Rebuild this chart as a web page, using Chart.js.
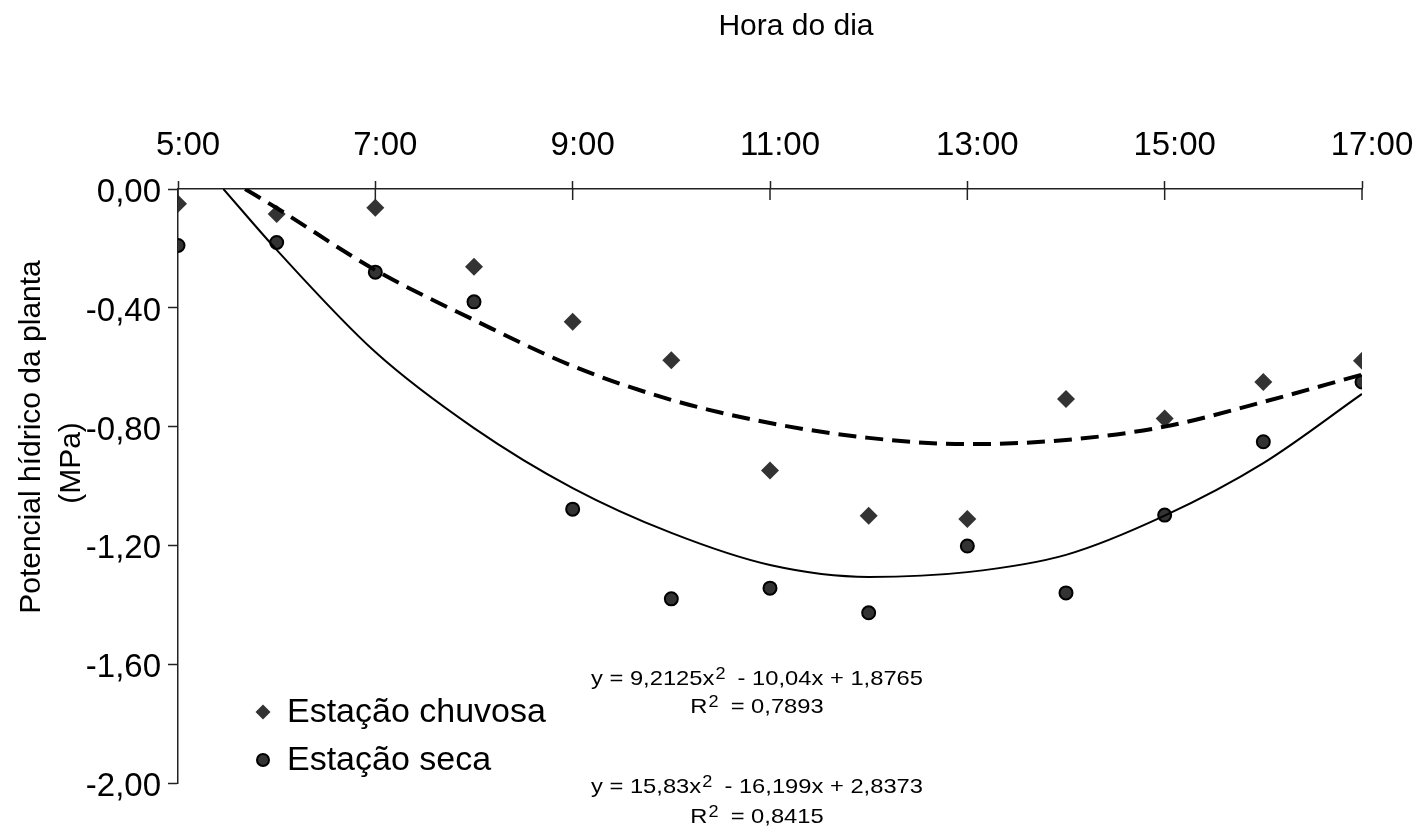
<!DOCTYPE html>
<html lang="pt">
<head>
<meta charset="UTF-8">
<title>Potencial hídrico da planta</title>
<style>
  html, body { margin: 0; padding: 0; background: #fff; }
  #chart { display: block; }
</style>
</head>
<body>
<canvas id="chart" width="1419" height="836"></canvas>
<script src="https://cdn.jsdelivr.net/npm/chart.js"></script>
<script>
// measured values (hour of day, MPa)
const hours = [5, 6, 7, 8, 9, 10, 11, 12, 13, 14, 15, 16, 17];
const chuvosa = [-0.05, -0.084, -0.063, -0.262, -0.447, -0.577, -0.948, -1.10, -1.111, -0.707, -0.773, -0.65, -0.578];
const seca = [-0.19, -0.18, -0.28, -0.38, -1.078, -1.38, -1.344, -1.427, -1.202, -1.36, -1.098, -0.851, -0.65];

// trend curves
const trendHoursChuvosa = [5.68, 6, 7, 8, 9, 10, 11, 12, 13, 14, 15, 16, 17];
const trendChuvosa = [0, -0.064, -0.273, -0.441, -0.596, -0.71, -0.788, -0.838, -0.859, -0.845, -0.80, -0.717, -0.625];
const trendHoursSeca = [5.46, 6, 7, 8, 9, 10, 11, 12, 13, 14, 15, 16, 17];
const trendSeca = [0, -0.205, -0.549, -0.805, -1.007, -1.158, -1.266, -1.306, -1.29, -1.232, -1.10, -0.923, -0.69];

const xTicks = [5, 7, 9, 11, 13, 15, 17];
const yTicks = [0, -0.4, -0.8, -1.2, -1.6, -2.0];
const seriesNames = ['Estação chuvosa', 'Estação seca'];
const equations = [
  ['y = 9,2125x', '2', '  - 10,04x + 1,8765'],
  ['R', '2', '  = 0,7893'],
  ['y = 15,83x', '2', '  - 16,199x + 2,8373'],
  ['R', '2', '  = 0,8415']
];

const FONT = '"Liberation Sans", Arial, sans-serif';
const AXIS = '#222';

const toPoints = (xs, ys) => xs.map((x, i) => ({ x: x, y: ys[i] }));

function drawEquation(ctx, parts, cx, baseline) {
  const sx = 1.13;
  const mainFont = '21px ' + FONT;
  const supFont = '16px ' + FONT;
  ctx.font = mainFont;
  const w0 = ctx.measureText(parts[0]).width;
  const w2 = ctx.measureText(parts[2]).width;
  ctx.font = supFont;
  const w1 = ctx.measureText(parts[1]).width;
  const total = (w0 + w1 + w2) * sx;
  ctx.save();
  ctx.translate(cx - total / 2, baseline);
  ctx.scale(sx, 1);
  ctx.textAlign = 'left';
  ctx.textBaseline = 'alphabetic';
  ctx.font = mainFont;
  ctx.fillText(parts[0], 0, 0);
  ctx.font = supFont;
  ctx.fillText(parts[1], w0 + 1, -6);
  ctx.font = mainFont;
  ctx.fillText(parts[2], w0 + w1, 0);
  ctx.restore();
}

const decorations = {
  id: 'decorations',
  afterDraw(chart) {
    const { ctx, chartArea, scales } = chart;
    ctx.save();

    // tick marks crossing into the plot on the top axis
    ctx.strokeStyle = AXIS;
    ctx.lineWidth = 1.5;
    scales.x.ticks.forEach(t => {
      const px = scales.x.getPixelForValue(t.value);
      ctx.beginPath();
      ctx.moveTo(px, chartArea.top);
      ctx.lineTo(px, chartArea.top + 11);
      ctx.stroke();
    });

    ctx.fillStyle = '#000';

    // title
    ctx.font = '30px ' + FONT;
    ctx.textAlign = 'center';
    ctx.textBaseline = 'middle';
    ctx.fillText('Hora do dia', 796, 27);

    // y axis title, two lines
    ctx.save();
    ctx.translate(32, 437);
    ctx.rotate(-Math.PI / 2);
    ctx.fillText('Potencial hídrico da planta', 0, 0);
    ctx.restore();
    ctx.save();
    ctx.translate(72, 463);
    ctx.rotate(-Math.PI / 2);
    ctx.fillText('(MPa)', 0, 0);
    ctx.restore();

    // legend
    const styles = [
      { pointStyle: 'rectRot', radius: 7.5, rotation: 0, borderWidth: 0, fill: '#333', stroke: '#333' },
      { pointStyle: 'circle', radius: 6, rotation: 0, borderWidth: 2, fill: '#333', stroke: '#000' }
    ];
    const rows = [712, 760];
    ctx.font = '34px ' + FONT;
    ctx.textAlign = 'left';
    seriesNames.forEach((name, i) => {
      ctx.fillStyle = styles[i].fill;
      ctx.strokeStyle = styles[i].stroke;
      ctx.lineWidth = styles[i].borderWidth;
      Chart.helpers.drawPoint(ctx, styles[i], 263, rows[i]);
      ctx.fillStyle = '#000';
      ctx.textBaseline = 'middle';
      ctx.fillText(name, 287, rows[i] + 1);
    });

    // regression equations
    ctx.fillStyle = '#000';
    const baselines = [685, 713, 793, 823];
    equations.forEach((eq, i) => drawEquation(ctx, eq, 757, baselines[i]));

    ctx.restore();
  }
};

new Chart(document.getElementById('chart'), {
  type: 'scatter',
  data: {
    datasets: [
      {
        label: 'Tendência chuvosa',
        data: toPoints(trendHoursChuvosa, trendChuvosa),
        showLine: true,
        borderColor: '#000',
        borderWidth: 4,
        borderDash: [18, 9],
        pointRadius: 0,
        cubicInterpolationMode: 'monotone',
        order: 1
      },
      {
        label: 'Tendência seca',
        data: toPoints(trendHoursSeca, trendSeca),
        showLine: true,
        borderColor: '#000',
        borderWidth: 2,
        pointRadius: 0,
        cubicInterpolationMode: 'monotone',
        order: 2
      },
      {
        label: seriesNames[0],
        data: toPoints(hours, chuvosa),
        pointStyle: 'rectRot',
        pointRadius: 9,
        backgroundColor: '#333',
        borderColor: '#333',
        borderWidth: 0,
        order: 3
      },
      {
        label: seriesNames[1],
        data: toPoints(hours, seca),
        pointStyle: 'circle',
        pointRadius: 6.5,
        backgroundColor: '#333',
        borderColor: '#000',
        borderWidth: 2,
        order: 4
      }
    ]
  },
  options: {
    responsive: false,
    animation: false,
    events: [],
    layout: { padding: { left: 0, top: 0, right: 57, bottom: 53 } },
    plugins: {
      legend: { display: false },
      tooltip: { enabled: false }
    },
    scales: {
      x: {
        type: 'linear',
        position: 'top',
        min: 5,
        max: 17,
        afterBuildTicks: s => { s.ticks = xTicks.map(v => ({ value: v })); },
        afterFit: s => { s.height = 189; },
        grid: { drawOnChartArea: false, tickLength: 8, tickColor: AXIS, tickWidth: 1.5 },
        border: { color: AXIS, width: 1.5 },
        ticks: {
          font: { family: FONT, size: 33 },
          color: '#000',
          padding: 15,
          labelOffset: 10,
          maxRotation: 0,
          callback: v => v + ':00'
        }
      },
      y: {
        type: 'linear',
        min: -2,
        max: 0,
        afterBuildTicks: s => { s.ticks = yTicks.map(v => ({ value: v })); },
        afterFit: s => { s.width = 178; },
        grid: { drawOnChartArea: false, tickLength: 10, tickColor: AXIS, tickWidth: 1.5 },
        border: { color: AXIS, width: 1.5 },
        ticks: {
          font: { family: FONT, size: 33 },
          color: '#000',
          padding: 7,
          labelOffset: 4,
          callback: v => v.toFixed(2).replace('.', ',')
        }
      }
    }
  },
  plugins: [decorations]
});
</script>
</body>
</html>
